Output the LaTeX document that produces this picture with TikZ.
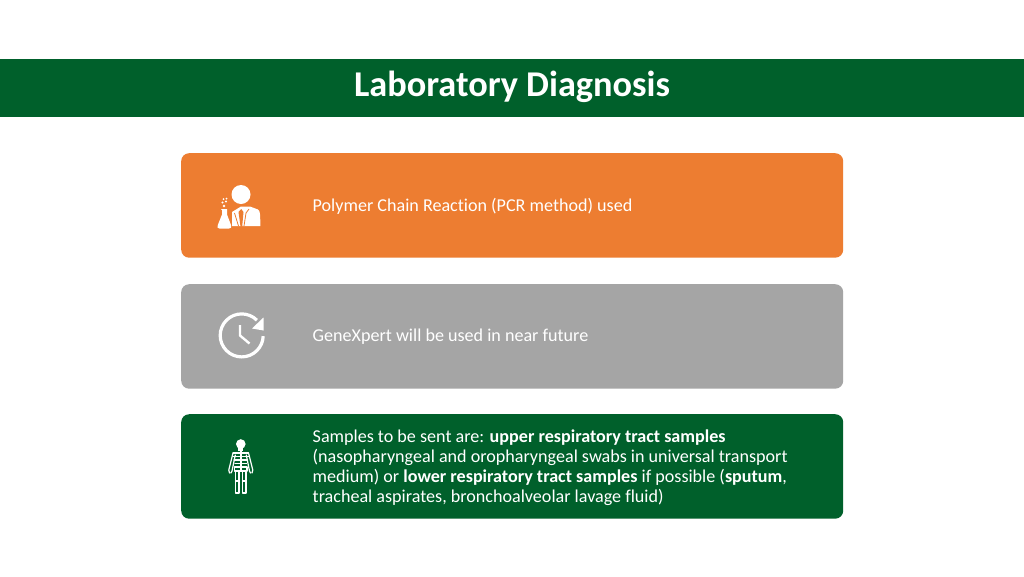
\documentclass[tikz,border=0pt]{standalone}
\usepackage{fontspec}
\setmainfont[Ligatures=NoCommon]{Carlito}
\definecolor{hdr}{HTML}{00602B}
\definecolor{org}{HTML}{ED7D31}
\definecolor{gry}{HTML}{A5A5A5}
\tikzset{
  card/.style={rounded corners=8pt,inner sep=0pt,minimum width=662pt,minimum height=104.5pt,anchor=north west},
  body/.style={anchor=west,text=white,align=left,font=\fontsize{18.1}{20}\selectfont,inner sep=0pt},
  ico/.style={fill=white,draw=none},
  icl/.style={draw=white,fill=none}
}
\begin{document}
\begin{tikzpicture}[x=1pt,y=-1pt]
\useasboundingbox (0,0) rectangle (1024,576);
\fill[white] (0,0) rectangle (1024,576);
\node[fill=hdr,minimum width=1024pt,minimum height=58pt,inner sep=0pt,anchor=north west] (band) at (0,59) {};
\node[text=white,font=\fontsize{36.3}{40}\selectfont\bfseries,inner sep=0pt] (title) at (512,87) {Laboratory Diagnosis};
\node[card,fill=org] (c1) at (181,153) {};
\node[card,fill=gry] (c2) at (181,284) {};
\node[card,fill=hdr] (c3) at (181,414) {};
\node[body] (t1) at (312.5,206) {Polymer Chain Reaction (PCR method) used};
\node[body] (t2) at (312.5,337) {GeneXpert will be used in near future};
\node[body] (t3) at (312.5,467.7) {Samples to be sent are: \textbf{upper respiratory tract samples}\\(nasopharyngeal and oropharyngeal swabs in universal transport\\medium) or \textbf{lower respiratory tract samples} if possible (\textbf{sputum},\\tracheal aspirates, bronchoalveolar lavage fluid)};
% scientist
\fill[ico] (241,194.5) circle (9.5);
\fill[ico] (232,226) -- (232,212) -- (241,206.5) -- (250,206.5) -- (258,209.5) .. controls (260,211) and (260.3,213) .. (260.3,226) -- cycle;
\fill[org] (240.5,226.5) -- (238.5,212) -- (241.2,209) -- (243.5,212) -- (242.2,226.5) -- cycle;
\draw[org,line width=.8pt] (234.5,213) -- (238.5,226) (249,209) -- (246,213) -- (244,226);
\fill[ico] (221,209) -- (227,209) -- (227,214.5) -- (231,225) .. controls (232,227.5) and (231,228.5) .. (229,228.5) -- (219.5,228.5) .. controls (217.5,228.5) and (217,227.5) .. (217.8,225) -- (222,214.5) -- (222,210) -- cycle;
\fill[ico] (224,206) circle (1.3) (222.5,202.5) circle (1.2) (226,201.5) circle (1.2) (223.5,199) circle (1) (226.5,198.5) circle (1);
% clock
\draw[icl,line width=3.2pt] (256.9,320.2) arc[start angle=-45,end angle=-358,radius=21.5];
\fill[ico] (263.5,317.5) -- (263.5,330.5) -- (252,328.5) -- cycle;
\draw[icl,line width=2.4pt] (240,325) -- (240,335.5) -- (249.5,343.5);
% skeleton
\fill[ico] (240.8,444) circle (4.8);
\fill[ico] (238.3,447) rectangle (243.3,450.5);
\begin{scope}[draw=white,line width=1.2pt,line cap=round,line join=round]
\draw (233,453) -- (248.5,453) (233,456.5) -- (248.5,456.5) (234,460) -- (247.5,460) (235,463.5) -- (246.5,463.5);
\draw[line width=1.8pt] (240.8,450) -- (240.8,470);
\draw (233,453) -- (228.8,470) -- (229.5,473) (235.3,455) -- (232,471) -- (231,473);
\draw (248.5,453) -- (252.8,470) -- (252,473) (246.3,455) -- (249.5,471) -- (250.5,473);
\draw (234.5,467) -- (247,467) -- (247,471) -- (234.5,471) -- cycle;
\draw (235.5,471) -- (235.5,493) -- (239,493) -- (239,471);
\draw (242.5,471) -- (242.5,493) -- (246,493) -- (246,471);
\draw (235.5,481) -- (239,481) (242.5,481) -- (246,481);
\end{scope}
\end{tikzpicture}
\end{document}
